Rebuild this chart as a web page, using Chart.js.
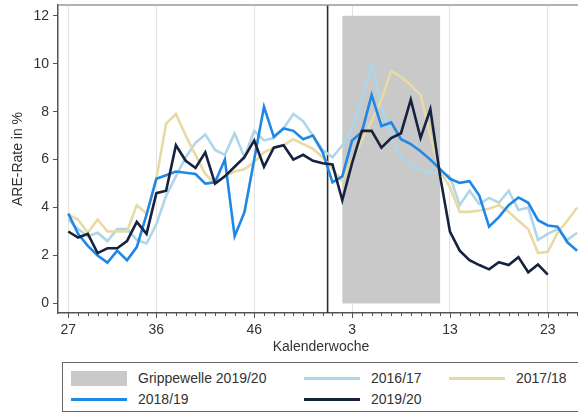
<!DOCTYPE html>
<html>
<head>
<meta charset="utf-8">
<script src="https://cdn.jsdelivr.net/npm/chart.js@4.4.1/dist/chart.umd.min.js"></script>
<style>
  html, body { margin: 0; padding: 0; background: #fff; width: 578px; height: 414px; overflow: hidden; }
  #wrap { position: absolute; left: 0; top: 0; width: 600px; height: 360px; }
  #legend {
    position: absolute; left: 62px; top: 362px; width: 530px; height: 48px;
    border: 1px solid #666; font: 14px 'Liberation Sans', Arial, sans-serif; color: #333;
  }
  .item { position: absolute; height: 20px; display: flex; align-items: center; white-space: nowrap; }
  .swatch { width: 56px; margin-right: 11px; }
</style>
</head>
<body>
<div id="wrap"><canvas id="chart"></canvas></div>
<div id="legend"></div>
<script>
// calendar weeks of a season (week 27 .. week 26 of next year, 2020 has week 53)
const weeks = [27, 28, 29, 30, 31, 32, 33, 34, 35, 36, 37, 38, 39, 40, 41, 42, 43, 44, 45, 46,
  47, 48, 49, 50, 51, 52, 53, 1, 2, 3, 4, 5, 6, 7, 8, 9, 10, 11, 12, 13, 14, 15, 16, 17, 18, 19,
  20, 21, 22, 23, 24, 25, 26];
const majorWeeks = [27, 36, 46, 3, 13, 23];
const yTicks = [0, 2, 4, 6, 8, 10, 12];

const seasonLabels = ['2016/17', '2017/18', '2018/19', '2019/20'];
const seasonColors = ['#aed6e8', '#e8daa4', '#1f87e6', '#17223f'];

const season2016 = [3.5, 3.1, 2.8, 2.95, 2.6, 3.1, 3.1, 2.65, 2.5, 3.3, 4.5, 5.3, 6.1, 6.7, 7.05,
  6.4, 6.2, 7.1, 6.1, 7.2, 6.8, 6.9, 7.3, 7.9, 7.6, 7.0, 6.4, 6.1, 6.6, 7.3, 8.5, 10.0, 8.2, 6.9,
  6.1, 5.8, 5.6, 5.4, 5.5, 5.3, 4.1, 4.7, 4.15, 4.4, 4.2, 4.7, 3.9, 4.0, 2.65, 2.9, 3.1, 2.65, 2.95];
const season2017 = [3.7, 3.5, 2.95, 3.5, 3.0, 3.0, 3.0, 4.1, 3.75, 5.2, 7.5, 7.9, 7.0, 6.2, 5.4,
  5.0, 5.3, 5.5, 5.6, 5.9, 6.3, 6.5, 6.6, 6.85, 6.65, 6.45, 6.1, 5.6, 5.1, 6.0, 6.8, 7.6, 8.5, 9.7,
  9.45, 9.1, 8.7, 7.0, 5.5, 4.85, 3.82, 3.82, 3.88, 3.95, 4.1, 3.82, 3.45, 3.1, 2.1, 2.15, 2.95, 3.45, 4.0];
const season2018 = [3.75, 2.9, 2.4, 2.0, 1.7, 2.2, 1.8, 2.35, 3.7, 5.2, 5.35, 5.5, 5.45, 5.4, 5.0,
  5.05, 6.0, 2.8, 3.8, 6.0, 8.2, 6.95, 7.3, 7.2, 6.85, 7.0, 6.3, 5.05, 5.3, 6.8, 7.15, 8.7, 7.4,
  7.55, 6.85, 6.65, 6.35, 6.0, 5.6, 5.2, 5.03, 5.1, 4.5, 3.2, 3.6, 4.1, 4.42, 4.2, 3.47, 3.25, 3.2, 2.55, 2.2];
const season2019 = [3.0, 2.75, 2.9, 2.1, 2.3, 2.3, 2.6, 3.4, 2.9, 4.6, 4.7, 6.6, 5.95, 5.65, 6.3,
  5.0, 5.3, 5.7, 6.1, 6.8, 5.7, 6.5, 6.6, 6.0, 6.2, 5.95, 5.85, 5.8, 4.3, 5.85, 7.2, 7.2, 6.5, 6.9,
  7.1, 8.5, 6.9, 8.1, 5.3, 3.0, 2.2, 1.8, 1.6, 1.42, 1.72, 1.6, 1.93, 1.3, 1.62, 1.2];

// flu wave 2019/20: week 2 to week 12
const fluWaveWeeks = [2, 12];
const fluWaveLabel = 'Grippewelle 2019/20';

const FONT = "'Liberation Sans', Arial, sans-serif";
const fluStart = weeks.indexOf(fluWaveWeeks[0]);
const fluEnd = weeks.indexOf(fluWaveWeeks[1]);
const yearBreak = (weeks.indexOf(53) + weeks.indexOf(1)) / 2;

const allSeasons = [season2016, season2017, season2018, season2019];
const datasets = allSeasons.map((s, k) => ({
  label: seasonLabels[k],
  data: s.map((v, i) => ({ x: i, y: v })),
  borderColor: seasonColors[k],
  borderWidth: 2.6,
  pointRadius: 0,
  tension: 0,
  order: 3 - k
}));

const isMajor = (i) => majorWeeks.includes(weeks[i]);

// grey flu-wave box, year break line, frame and week ticks
const decorations = {
  id: 'decorations',
  beforeDatasetsDraw(chart) {
    const { ctx, chartArea: a, scales: { x, y } } = chart;
    ctx.save();
    const x0 = x.getPixelForValue(fluStart);
    const x1 = x.getPixelForValue(fluEnd);
    const y0 = y.getPixelForValue(yTicks[yTicks.length - 1]);
    const y1 = y.getPixelForValue(0);
    ctx.fillStyle = '#c9c9c9';
    ctx.fillRect(x0, y0, x1 - x0, y1 - y0);

    const xb = x.getPixelForValue(yearBreak);
    ctx.strokeStyle = '#2a2a2a';
    ctx.lineWidth = 1.6;
    ctx.beginPath();
    ctx.moveTo(xb, a.top);
    ctx.lineTo(xb, a.bottom);
    ctx.stroke();

    ctx.strokeStyle = '#999';
    ctx.lineWidth = 1.5;
    ctx.beginPath();
    ctx.moveTo(a.left, a.top);
    ctx.lineTo(a.right, a.top);
    ctx.stroke();
    ctx.restore();
  },
  afterDraw(chart) {
    const { ctx, chartArea: a, scales: { x } } = chart;
    ctx.save();
    ctx.strokeStyle = '#555';
    ctx.lineWidth = 1;
    weeks.forEach((w, i) => {
      const px = Math.round(x.getPixelForValue(i)) + 0.5;
      ctx.beginPath();
      ctx.moveTo(px, a.bottom);
      ctx.lineTo(px, a.bottom + (isMajor(i) ? 5 : 3));
      ctx.stroke();
    });
    ctx.restore();
  }
};

new Chart(document.getElementById('chart'), {
  type: 'line',
  data: { datasets },
  options: {
    responsive: true,
    maintainAspectRatio: false,
    animation: false,
    layout: { padding: { top: 5, right: 16, left: 0, bottom: 0 } },
    plugins: { legend: { display: false }, tooltip: { enabled: false } },
    scales: {
      x: {
        type: 'linear',
        min: -1.05,
        max: 52.7,
        afterBuildTicks: (scale) => { scale.ticks = weeks.map((w, i) => ({ value: i })); },
        afterFit: (scale) => { scale.height = 47; scale.paddingLeft = 0; scale.paddingRight = 0; },
        ticks: {
          autoSkip: false,
          maxRotation: 0,
          padding: 9,
          color: '#333',
          font: { family: FONT, size: 14 },
          callback: (value) => (isMajor(value) ? String(weeks[value]) : '')
        },
        grid: {
          drawTicks: false,
          color: (ctx) => (ctx.tick && isMajor(ctx.tick.value) ? '#e2e2e2' : 'rgba(0,0,0,0)'),
          lineWidth: 1
        },
        border: { display: true, color: '#555', width: 1.5 },
        title: {
          display: true,
          text: 'Kalenderwoche',
          color: '#333',
          font: { family: FONT, size: 14 },
          padding: { top: 0, bottom: 4 }
        }
      },
      y: {
        min: -0.4,
        max: 12.45,
        afterBuildTicks: (scale) => { scale.ticks = yTicks.map((v) => ({ value: v })); },
        afterFit: (scale) => { scale.width = 58; scale.paddingTop = 0; scale.paddingBottom = 0; },
        ticks: { padding: 4, color: '#333', font: { family: FONT, size: 14 } },
        grid: { drawOnChartArea: false, drawTicks: true, tickLength: 5, color: '#555' },
        border: { display: true, color: '#555', width: 1.5 },
        title: {
          display: true,
          text: 'ARE-Rate in %',
          color: '#333',
          font: { family: FONT, size: 14 },
          padding: { top: 10, bottom: 0 }
        }
      }
    }
  },
  plugins: [decorations]
});

// legend laid out like the original 3-column key
const legend = document.getElementById('legend');
const legendItems = [
  { text: fluWaveLabel, color: '#c9c9c9', box: true },
  { text: seasonLabels[0], color: seasonColors[0] },
  { text: seasonLabels[1], color: seasonColors[1] },
  { text: seasonLabels[2], color: seasonColors[2] },
  { text: seasonLabels[3], color: seasonColors[3] }
];
const colLeft = [8, 241, 386];
legendItems.forEach((it, n) => {
  const el = document.createElement('div');
  el.className = 'item';
  el.style.left = colLeft[n % 3] + 'px';
  el.style.top = (n < 3 ? 5 : 26) + 'px';
  const sw = document.createElement('span');
  sw.className = 'swatch';
  sw.style.background = it.color;
  sw.style.height = it.box ? '15px' : '3px';
  el.appendChild(sw);
  el.appendChild(document.createTextNode(it.text));
  legend.appendChild(el);
});
</script>
</body>
</html>
